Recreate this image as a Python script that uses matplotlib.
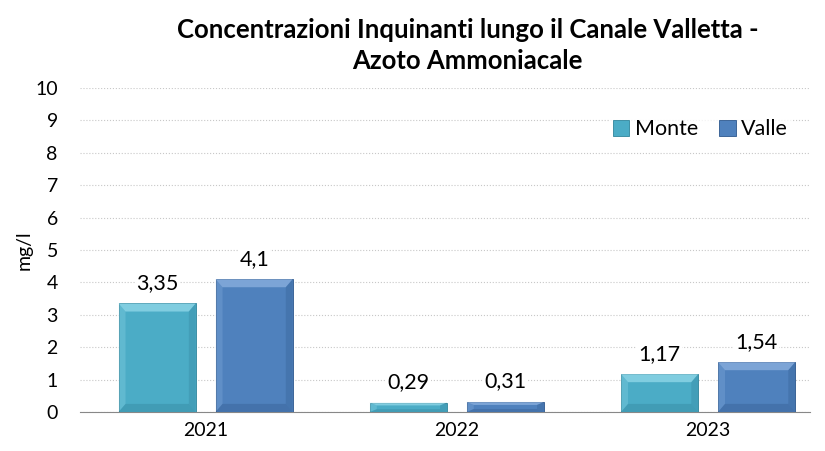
import numpy as np
import matplotlib.pyplot as plt
from matplotlib.patches import Polygon

# data
years = ["2021", "2022", "2023"]
monte = [3.35, 0.29, 1.17]
valle = [4.1, 0.31, 1.54]
labels_monte = ["3,35", "0,29", "1,17"]
labels_valle = ["4,1", "0,31", "1,54"]

plt.rcParams['font.family'] = ['Lato', 'DejaVu Sans']

fig = plt.figure(figsize=(8.25, 4.51), dpi=100)
ax = fig.add_axes([0.097, 0.0865, 0.885, 0.7185])

x = np.arange(len(years))
w = 0.307
off = 0.193

col_m = "#4BACC6"
col_v = "#4F81BD"

bars_m = ax.bar(x - off, monte, w, color=col_m, edgecolor="#3f8fa5", linewidth=0.7, zorder=3, label="Monte")
bars_v = ax.bar(x + off, valle, w, color=col_v, edgecolor="#3d6698", linewidth=0.7, zorder=3, label="Valle")

# soft bevel on every bar
def bevel(bars, light, dark):
    for b in bars:
        x0, y0 = b.get_x(), b.get_y()
        bw, bh = b.get_width(), b.get_height()
        dx = bw * 0.09
        dy = min(0.25, bh * 0.3)
        x1 = x0 + bw
        y1 = y0 + bh
        top = [(x0, y1), (x1, y1), (x1 - dx, y1 - dy), (x0 + dx, y1 - dy)]
        bot = [(x0, y0), (x1, y0), (x1 - dx, y0 + dy), (x0 + dx, y0 + dy)]
        left = [(x0, y0), (x0, y1), (x0 + dx, y1 - dy), (x0 + dx, y0 + dy)]
        right = [(x1, y0), (x1, y1), (x1 - dx, y1 - dy), (x1 - dx, y0 + dy)]
        ax.add_patch(Polygon(top, closed=True, color=light, lw=0, zorder=4, alpha=0.5))
        ax.add_patch(Polygon(left, closed=True, color=light, lw=0, zorder=4, alpha=0.2))
        ax.add_patch(Polygon(bot, closed=True, color=dark, lw=0, zorder=4, alpha=0.3))
        ax.add_patch(Polygon(right, closed=True, color=dark, lw=0, zorder=4, alpha=0.25))

bevel(bars_m, "#b5eefa", "#2c7890")
bevel(bars_v, "#a9c8f0", "#2b5284")

for bars, labs in [(bars_m, labels_monte), (bars_v, labels_valle)]:
    for b, t in zip(bars, labs):
        ax.text(b.get_x() + b.get_width() / 2, b.get_height() + 0.32, t,
                ha="center", va="bottom", fontsize=15.5, zorder=5,
                bbox=dict(facecolor="white", edgecolor="none", pad=1))

ax.set_xlim(-0.5, 2.406)
ax.set_ylim(0, 10)
ax.set_yticks(range(0, 11))
ax.set_xticks(x)
ax.set_xticklabels(years)
ax.tick_params(axis="both", length=0, labelsize=14)
ax.tick_params(axis="y", pad=16)
ax.tick_params(axis="x", pad=7)
ax.yaxis.grid(True, color="#c8c8c8", linestyle=":", linewidth=0.8, zorder=0)
ax.set_axisbelow(True)
for s in ["top", "right", "left"]:
    ax.spines[s].set_visible(False)
ax.spines["bottom"].set_color("#888888")
ax.set_ylabel("mg/l", fontsize=14, labelpad=2)

fig.suptitle("Concentrazioni Inquinanti lungo il Canale Valletta -\nAzoto Ammoniacale",
             fontsize=18.5, fontweight="bold", linespacing=1.35, x=0.567, y=0.96, va="top")

leg = ax.legend(loc="upper right", bbox_to_anchor=(0.99, 0.95), ncol=2, frameon=True,
                fontsize=15.5, handlelength=0.75, handleheight=0.75, handletextpad=0.25,
                columnspacing=1.0, borderpad=0.2)
leg.get_frame().set_facecolor("white")
leg.get_frame().set_edgecolor("none")

fig.savefig("out.png", dpi=100)
